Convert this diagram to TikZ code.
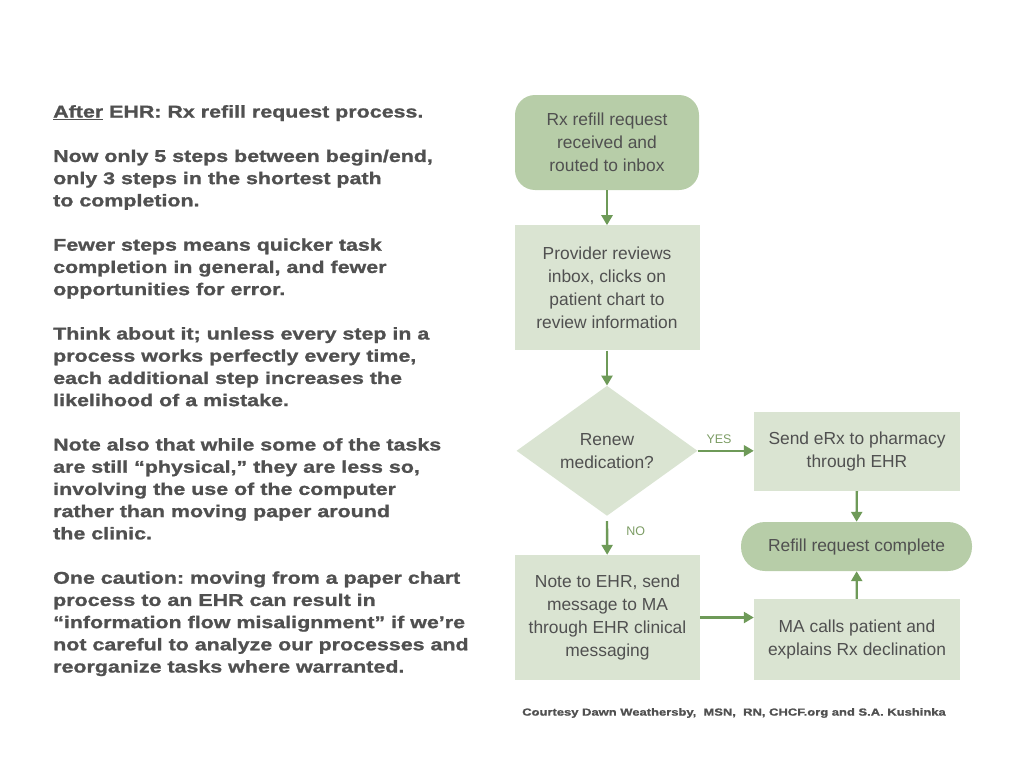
\documentclass[tikz,border=0pt]{standalone}
\usepackage{fontspec}
\setmainfont{Liberation Sans}[BoldFeatures={FakeStretch=1.26,FakeBold=1.2}]
\usepackage{tikz}
\usetikzlibrary{positioning}
\usetikzlibrary{shapes,shapes.geometric,arrows.meta}
\frenchspacing
\definecolor{darkfill}{HTML}{B7CDA8}
\definecolor{lightfill}{HTML}{DAE4D2}
\definecolor{arrowgreen}{HTML}{6E9A58}
\definecolor{labelgreen}{HTML}{7C9C64}
\definecolor{txtgray}{HTML}{505050}
\tikzstyle{novertex} = [draw=none, fill=none, text=txtgray, align=left, anchor=north west, inner sep=0pt]
\tikzstyle{startnode} = [rectangle, rounded corners=20pt, fill=darkfill, text=txtgray, align=center, inner sep=0pt]
\tikzstyle{endnode} = [rectangle, rounded corners=24pt, fill=darkfill, text=txtgray, align=center, inner sep=0pt]
\tikzstyle{process} = [rectangle, fill=lightfill, text=txtgray, align=center, inner sep=0pt]
\tikzstyle{decision} = [diamond, fill=lightfill, text=txtgray, align=center, inner sep=0pt]
\tikzstyle{flow} = [draw=arrowgreen, line width=2.4pt, -{Triangle[length=10pt,width=11pt]}]
\tikzstyle{choice} = [text=labelgreen, font=\fontsize{12.5}{14}\selectfont, inner sep=0pt]

\begin{document}
\begin{tikzpicture}[x=1pt, y=-1pt, font=\fontsize{17.4}{22.8}\selectfont]
	\useasboundingbox (0,0) rectangle (1024,768);

	% side text
	\node [novertex, font=\fontsize{17}{22.2}\selectfont\bfseries] (T0) at (53,105) {%
		\underline{After} EHR: Rx refill request process.\\
		\mbox{}\\
		Now only 5 steps between begin/end,\\
		only 3 steps in the shortest path\\
		to completion.\\
		\mbox{}\\
		Fewer steps means quicker task\\
		completion in general, and fewer\\
		opportunities for error.\\
		\mbox{}\\
		Think about it; unless every step in a\\
		process works perfectly every time,\\
		each additional step increases the\\
		likelihood of a mistake.\\
		\mbox{}\\
		Note also that while some of the tasks\\
		are still “physical,” they are less so,\\
		involving the use of the computer\\
		rather than moving paper around\\
		the clinic.\\
		\mbox{}\\
		One caution: moving from a paper chart\\
		process to an EHR can result in\\
		“information flow misalignment” if we’re\\
		not careful to analyze our processes and\\
		reorganize tasks where warranted.};

	% place nodes
	\node [startnode, minimum width=184pt, minimum height=95pt] (N1) at (607,142.5)
		{Rx refill request\\received and\\routed to inbox};
	\node [process, below=35pt of N1, minimum width=185pt, minimum height=125pt] (N2)
		{Provider reviews\\inbox, clicks on\\patient chart to\\review information};
	\node [decision, below=35pt of N2, minimum width=181pt, minimum height=130pt] (N3)
		{Renew\\medication?};
	\node [process, minimum width=206pt, minimum height=79pt] (N4) at (857,451.5)
		{Send eRx to pharmacy\\through EHR};
	\node [endnode, minimum width=231pt, minimum height=49pt] (N5) at (856.5,546.5)
		{Refill request complete};
	\node [process, minimum width=185pt, minimum height=125pt] (N6) at (607.5,617.5)
		{Note to EHR, send\\message to MA\\through EHR clinical\\messaging};
	\node [process, minimum width=206pt, minimum height=81pt] (N7) at (857,639.5)
		{MA calls patient and\\explains Rx declination};

	% credit line
	\node [novertex, anchor=center, font=\fontsize{10.3}{12}\selectfont\bfseries] (C0) at (734,713)
		{Courtesy Dawn Weathersby,~ MSN,~ RN, CHCF.org and S.A. Kushinka};

	% draw edges
	\path [flow] (N1) -- (N2);
	\path [flow] (N2) -- (N3);
	\path [flow] (N3.east) -- (N3.east -| N4.west) node [choice, pos=0.38, above=6pt] {YES};
	\path [flow] ([yshift=-5pt]N3.south) -- (N6) node [choice, pos=0.3, right=18pt] {NO};
	\path [flow] (N6) -- (N6 -| N7.west);
	\path [flow] (N4) -- (N5);
	\path [flow] (N7) -- (N5);
\end{tikzpicture}
\end{document}
